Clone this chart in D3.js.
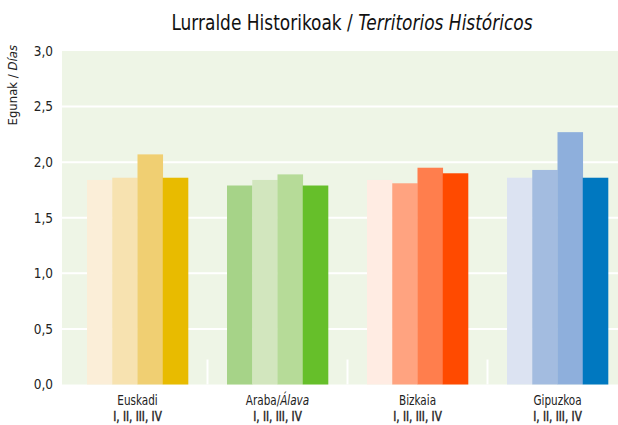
<!DOCTYPE html>
<html>
<head>
<meta charset="utf-8">
<title>Lurralde Historikoak</title>
<script src="https://d3js.org/d3.v7.min.js"></script>
<style>
  body { margin: 0; background: #fff; }
  svg { display: block; font-family: "DejaVu Sans Condensed", "Liberation Sans Narrow", sans-serif; }
</style>
</head>
<body>
<svg width="618" height="425"></svg>
<script>
// Datuak
const regions = ["Euskadi", "Araba/Álava", "Bizkaia", "Gipuzkoa"];
const periods = ["I", "II", "III", "IV"];
const euskadi = [1.84, 1.86, 2.07, 1.86];
const araba = [1.79, 1.84, 1.89, 1.79];
const bizkaia = [1.84, 1.81, 1.95, 1.90];
const gipuzkoa = [1.86, 1.93, 2.27, 1.86];
const yTicks = [0, 0.5, 1, 1.5, 2, 2.5, 3];
const palette = [
  ["#fbeed8", "#f7e2b0", "#f0cf72", "#e8bb00"],
  ["#a6d388", "#d2e6be", "#b6db98", "#66bf2a"],
  ["#ffece3", "#ffa380", "#ff7e4d", "#ff4a00"],
  ["#dce3f2", "#a3bce0", "#8eafdc", "#0078c0"]
];
const values = [euskadi, araba, bizkaia, gipuzkoa];

const svg = d3.select("svg");
const plotLeft = 62, plotRight = 618;

const y = d3.scaleLinear().domain([0, 3]).range([384.5, 51]);
const x = d3.scaleBand().domain(regions).range([67.5, 627.5]);
const xi = d3.scaleBand().domain(periods).range([19.5, 120.5]);

// atzealdea
svg.append("rect")
    .attr("x", plotLeft).attr("y", y(3))
    .attr("width", plotRight - plotLeft).attr("height", y(0) - y(3))
    .attr("fill", "#eef5e6");

// sareta
svg.selectAll(".grid").data(yTicks.filter(d => d > 0 && d < 3)).enter()
    .append("line")
    .attr("x1", plotLeft).attr("x2", plotRight)
    .attr("y1", d => y(d)).attr("y2", d => y(d))
    .attr("stroke", "#fff").attr("stroke-width", 2);

// bereizleak
svg.selectAll(".sep").data(regions.slice(1)).enter()
    .append("line")
    .attr("x1", d => x(d)).attr("x2", d => x(d))
    .attr("y1", y(0)).attr("y2", y(0) - 25)
    .attr("stroke", "#fff").attr("stroke-width", 2);

// barrak
regions.forEach((r, gi) => {
  const g = svg.append("g").attr("transform", `translate(${x(r)},0)`);
  g.selectAll("rect").data(values[gi]).enter()
      .append("rect")
      .attr("x", (d, i) => xi(periods[i]))
      .attr("width", xi.bandwidth() + 0.3)
      .attr("y", d => y(d))
      .attr("height", d => y(0) - y(d))
      .attr("fill", (d, i) => palette[gi][i]);
});

// Y ardatza
svg.selectAll(".ylab").data(yTicks).enter()
    .append("text")
    .attr("x", 53).attr("y", d => y(d))
    .attr("dy", "0.36em")
    .attr("text-anchor", "end")
    .style("font-size", "13.5px")
    .attr("fill", "#222")
    .text(d => d3.format(".1f")(d).replace(".", ","));

const yt = svg.append("text")
    .attr("transform", "translate(17,45) rotate(-90)")
    .attr("text-anchor", "end")
    .style("font-size", "13px")
    .attr("fill", "#222");
yt.append("tspan").text("Egunak / ");
yt.append("tspan").style("font-style", "italic").text("Días");

// X etiketak (estutuak)
const xl = svg.selectAll(".xlab").data(regions).enter()
    .append("g")
    .attr("transform", d => `translate(${x(d) + x.bandwidth() / 2},0) scale(0.86,1)`);
xl.each(function(d) {
  const g = d3.select(this);
  const t1 = g.append("text")
      .attr("text-anchor", "middle").attr("fill", "#222")
      .style("font-size", "13.5px")
      .attr("x", 0).attr("y", 405.5);
  if (d.includes("/")) {
    const parts = d.split("/");
    t1.append("tspan").text(parts[0] + "/");
    t1.append("tspan").style("font-style", "italic").text(parts[1]);
  } else {
    t1.text(d);
  }
  g.append("text")
      .attr("text-anchor", "middle").attr("fill", "#222")
      .style("font-size", "13.5px")
      .attr("stroke", "#222").attr("stroke-width", 0.4)
      .attr("x", 0).attr("y", 421.5)
      .text(periods.join(", "));
});

// izenburua
const title = svg.append("g")
    .attr("transform", "translate(352,30) scale(0.9,1)")
    .append("text")
    .attr("text-anchor", "middle")
    .style("font-size", "21px")
    .attr("fill", "#111");
title.append("tspan").text("Lurralde Historikoak / ");
title.append("tspan").style("font-style", "italic").text("Territorios Históricos");
</script>
</body>
</html>
